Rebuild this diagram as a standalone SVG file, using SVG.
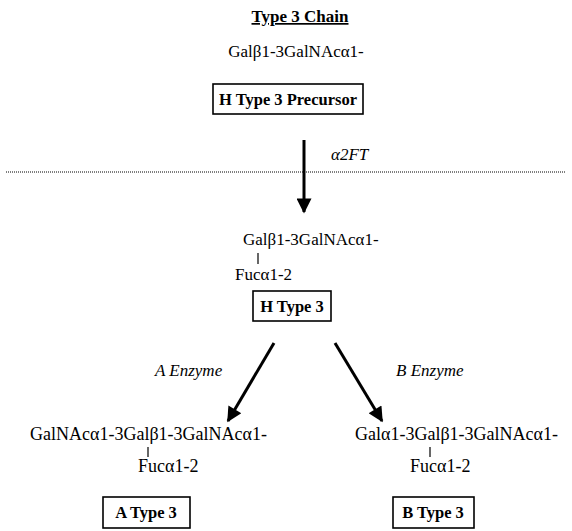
<svg xmlns="http://www.w3.org/2000/svg" width="572" height="531" viewBox="0 0 572 531" font-family="Liberation Serif, Times New Roman, serif">
<defs>
<style>
.t{font-size:17px}
.t2{font-size:18px}
.b{font-size:16.5px;font-weight:bold}
.i{font-size:17px;font-style:italic}
.box{fill:#fff;stroke:#000;stroke-width:1.6}
.ln{stroke:#000;stroke-width:3;fill:none}
.bar{stroke:#000;stroke-width:1.2}
</style>
<marker id="ah" viewBox="0 0 10 10" refX="9" refY="5" markerWidth="5.5" markerHeight="5" orient="auto" markerUnits="strokeWidth">
<path d="M0,0 L10,5 L0,10 z" fill="#000"/>
</marker>
</defs>
<rect width="572" height="531" fill="#fff"/>
<g id="title">
<text x="300" y="22" text-anchor="middle" font-size="17" font-weight="bold" text-decoration="underline">Type 3 Chain</text>
</g>
<g id="precursor">
<text class="t" x="296" y="57" text-anchor="middle">Galβ1-3GalNAcα1-</text>
<rect class="box" x="213" y="84" width="150" height="30"/>
<text class="b" x="288" y="105" text-anchor="middle">H Type 3 Precursor</text>
</g>
<line x1="6" y1="172" x2="566" y2="172" stroke="#000" stroke-width="1" stroke-dasharray="1,1"/>
<g id="htype3">
<text class="t" x="243" y="245">Galβ1-3GalNAcα1-</text>
<line class="bar" x1="258" y1="253" x2="258" y2="264"/>
<text class="t" x="235" y="280">Fucα1-2</text>
<rect class="box" x="253" y="291" width="78" height="30"/>
<text class="b" x="292" y="312" text-anchor="middle">H Type 3</text>
</g>
<g id="atype3">
<text class="t2" x="30" y="440">GalNAcα1-3Galβ1-3GalNAcα1-</text>
<line class="bar" x1="148" y1="447" x2="148" y2="457"/>
<text class="t2" x="138" y="472">Fucα1-2</text>
<rect class="box" x="103" y="497" width="87" height="31"/>
<text class="b" x="146" y="518" text-anchor="middle">A Type 3</text>
</g>
<g id="btype3">
<text class="t2" x="355" y="440">Galα1-3Galβ1-3GalNAcα1-</text>
<line class="bar" x1="430" y1="447" x2="430" y2="457"/>
<text class="t2" x="410" y="472">Fucα1-2</text>
<rect class="box" x="393" y="497" width="81" height="31"/>
<text class="b" x="433" y="518" text-anchor="middle">B Type 3</text>
</g>
<g id="connectors">
<line class="ln" x1="304" y1="140" x2="304" y2="212" marker-end="url(#ah)"/>
<text class="i" x="331" y="160">α2FT</text>
<line class="ln" x1="274" y1="343" x2="228" y2="421" marker-end="url(#ah)"/>
<text class="i" x="155" y="376">A Enzyme</text>
<line class="ln" x1="335" y1="343" x2="382" y2="421" marker-end="url(#ah)"/>
<text class="i" x="396" y="376">B Enzyme</text>
</g>
</svg>
